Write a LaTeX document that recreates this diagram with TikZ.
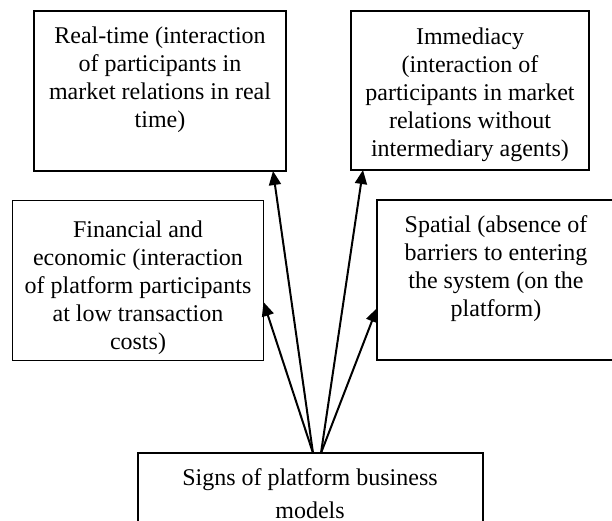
\documentclass[tikz,border=0pt]{standalone}
\usepackage{fontspec}
\setmainfont{Liberation Serif}
\usetikzlibrary{arrows.meta}
\begin{document}
\begin{tikzpicture}[x=1pt,y=-1pt,
  box/.style={draw=black, line width=1.6pt, rectangle, inner sep=0pt, outer sep=0pt},
  txt/.style={align=center, anchor=base, inner sep=0pt, font=\fontsize{24}{28.1}\selectfont},
  link/.style={line width=2pt, -{Triangle[length=14pt,width=12pt]}}]
\useasboundingbox (0,0) rectangle (612,520);
\fill[white] (0,0) rectangle (612,520);

% feature boxes
\node[box, minimum width=252pt, minimum height=160pt] (tl) at (160,91) {};
\node[box, minimum width=238pt, minimum height=159pt] (tr) at (470,90.5) {};
\node[box, minimum width=251pt, minimum height=160pt] (ml) at (138,280.5) {};
\node[box, minimum width=238pt, minimum height=160pt] (mr) at (496,280) {};
\node[box, minimum width=345pt, minimum height=80pt] (bot) at (310.5,493) {};

% box texts (base anchor sits on the last line)
\node[txt] (tltext) at (160,127.8) {Real-time (interaction\\of participants in\\market relations in real\\time)};
\node[txt] (trtext) at (470,156.4) {Immediacy\\(interaction of\\participants in market\\relations without\\intermediary agents)};
\node[txt] (mltext) at (138,349.4) {Financial and\\economic (interaction\\of platform participants\\at low transaction\\costs)};
\node[txt] (mrtext) at (496,316.3) {Spatial (absence of\\barriers to entering\\the system (on the\\platform)};
\node[txt, font=\fontsize{24}{33}\selectfont] (bottext) at (310,518) {Signs of platform business\\models};

% connector end points
\coordinate (s1) at ([xshift=2.5pt]bot.north);
\coordinate (s2) at ([xshift=10.5pt]bot.north);
\coordinate (tlend) at ([xshift=-13pt]tl.south east);
\coordinate (trend) at ([xshift=12pt]tr.south west);
\coordinate (mlend) at ([yshift=-21.5pt]ml.east);
\coordinate (mrend) at ([yshift=-28pt]mr.west);

\draw[link] (s1) -- (tlend);
\draw[link] (s1) -- (mlend);
\draw[link] (s2) -- (trend);
\draw[link] (s2) -- (mrend);
\end{tikzpicture}
\end{document}
